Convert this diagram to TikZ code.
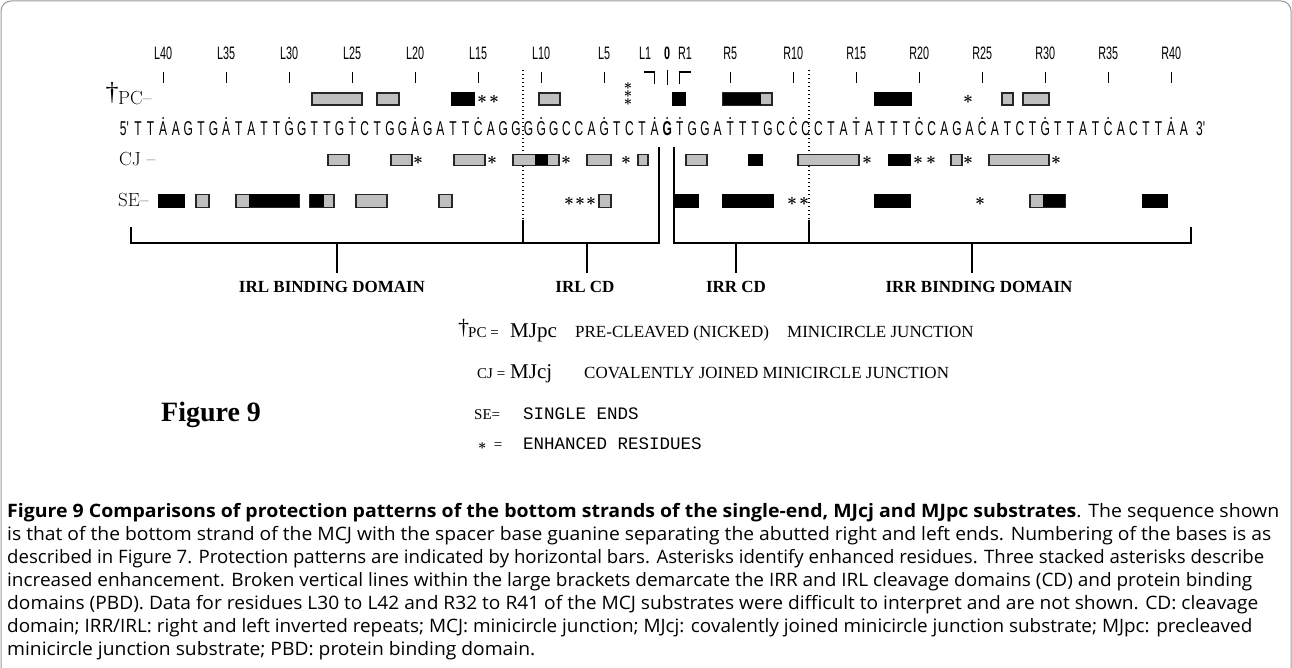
\documentclass[tikz,border=0pt]{standalone}
\usepackage{graphicx}
\usepackage{fontspec}
\newfontfamily\seqf[FakeStretch=0.6]{Liberation Sans}
\newfontfamily\capf{Open Sans}
\newfontfamily\timesf{Liberation Serif}
\newfontfamily\monof{Liberation Mono}
\newcommand\capline[2]{\resizebox{#1pt}{\height}{#2}}
\newcommand\st{{\boldmath$\ast$}}
\begin{document}
\begin{tikzpicture}[x=1pt,y=-1pt,
  seq/.style={font=\seqf\fontsize{20}{24}\selectfont, anchor=base, inner sep=0},
  lab/.style={font=\seqf\fontsize{18}{20}\selectfont, inner sep=0},
  tickln/.style={line width=1.2pt},
  gbar/.style={draw=black!85, fill=black!25, line width=1.4pt},
  bbar/.style={draw=black, fill=black, line width=1.4pt},
  star/.style={inner sep=0, font=\fontsize{17}{17}\selectfont},
  brk/.style={line width=1.6pt},
  dotln/.style={line width=1.4pt, dash pattern=on 1.4pt off 2.6pt},
  dom/.style={font=\timesf\bfseries\fontsize{17}{20}\selectfont, inner sep=0, anchor=base},
  rowlab/.style={font=\fontsize{19}{22}\selectfont, inner sep=0, anchor=base west},
  leg/.style={font=\timesf\fontsize{17}{20}\selectfont, inner sep=0, anchor=base west},
  legbig/.style={font=\timesf\fontsize{21}{24}\selectfont, inner sep=0, anchor=base west},
  legsm/.style={font=\timesf\fontsize{15}{18}\selectfont, inner sep=0, anchor=base west},
  legmono/.style={font=\monof\fontsize{17.5}{20}\selectfont, inner sep=0, anchor=base west},
  captxt/.style={font=\capf\fontsize{18.5}{20}\selectfont, inner sep=0, anchor=base west}
]
\useasboundingbox (0,0) rectangle (1292,668);
% frame
\draw[black!40, line width=1pt, rounded corners=10pt] (1,668) -- (1,1) -- (1291,1) -- (1291,668);

% top tick labels and ticks
\foreach \i/\t in {2/L40,7/L35,12/L30,17/L25,22/L20,27/L15,32/L10,37/L5,47/R5,52/R10,57/R15,62/R20,67/R25,72/R30,77/R35,82/R40} {
  \node[lab] (t\t) at ({138+12.6*\i},53) {\t};
  \draw[tickln] ({138+12.6*\i},72) -- ({138+12.6*\i},83);
}
\node[lab] (tL1) at (645,53) {L1};
\draw[tickln] (643.6,72) -- (654.6,72) -- (654.6,84);
\node[lab, font=\seqf\bfseries\fontsize{18}{20}\selectfont] (t0) at (667.2,53) {0};
\draw[tickln] (667.2,70) -- (667.2,85);
\node[lab] (tR1) at (685,53) {R1};
\draw[tickln] (690.8,72) -- (679.8,72) -- (679.8,84);

% dotted domain separators
\draw[dotln] (523,70) -- (523,220);
\draw[dotln] (809,70) -- (809,220);

% row labels
\node[font=\timesf\fontsize{26}{26}\selectfont, inner sep=0, anchor=base] (dag1) at (112,101) {\textdagger};
\node[rowlab] (pclab) at (118,105) {PC–};
\node[rowlab] (cjlab) at (119,166) {CJ –};
\node[rowlab] (selab) at (118,207) {SE–};

% sequence
\node[seq, anchor=base east] (five) at (129,136) {5'};
\foreach \c [count=\i from 0] in {T,T,A,A,G,T,G,A,T,A,T,T,G,G,T,T,G,T,C,T,G,G,A,G,A,T,T,C,A,G,G,G,G,G,C,C,A,G,T,C,T,A} {
  \node[seq] (sL\i) at ({138+12.6*\i},136) {\c};
}
\node[seq, font=\seqf\bfseries\fontsize{20}{24}\selectfont] (s42) at (667.2,136) {G};
\foreach \c [count=\i from 43] in {T,G,G,A,T,T,T,G,C,C,C,C,T,A,T,A,T,T,T,C,C,A,G,A,C,A,T,C,T,G,T,T,A,T,C,A,C,T,T,A,A} {
  \node[seq] (sR\i) at ({138+12.6*\i},136) {\c};
}
\node[seq, anchor=base west] (three) at (1196,136) {3'};
\foreach \i in {2,7,12,17,22,27,32,37,41,42,43,47,52,57,62,67,72,77,82} {
  \fill ({138+12.6*\i},118) circle (1pt);
}

% PC row
\draw[gbar] (312,93) rectangle (362,105);
\draw[gbar] (377,93) rectangle (399,105);
\draw[bbar] (452,93) rectangle (474,105);
\node[star] (pcs1) at (482,99) {\st};
\node[star] (pcs2) at (494,99) {\st};
\draw[gbar] (539,93) rectangle (560,105);
\node[inner sep=0, font=\fontsize{14}{14}\selectfont] (pcs3) at (628,94) {\shortstack{\st\\[-1.5pt]\st\\[-1.5pt]\st}};
\draw[bbar] (673,93) rectangle (685,105);
\draw[gbar] (723,93) rectangle (772,105);
\fill[black] (723,93) rectangle (761,105);
\draw[bbar] (875,93) rectangle (911,105);
\node[star] (pcs6) at (968,99) {\st};
\draw[gbar] (1002,93) rectangle (1013,105);
\draw[gbar] (1023,93) rectangle (1049,105);

% CJ row
\draw[gbar] (328,154.5) rectangle (349,165.5);
\draw[gbar] (391,154.5) rectangle (412,165.5);
\node[star] (cjs1) at (418,160) {\st};
\draw[gbar] (454,154.5) rectangle (485,165.5);
\node[star] (cjs2) at (492,160) {\st};
\draw[gbar] (513,154.5) rectangle (559,165.5);
\fill[black] (535,154.5) rectangle (548,165.5);
\node[star] (cjs3) at (566,160) {\st};
\draw[gbar] (587,154.5) rectangle (611,165.5);
\node[star] (cjs4) at (626,160) {\st};
\draw[gbar] (638,154.5) rectangle (648,165.5);
\draw[gbar] (686,154.5) rectangle (707,165.5);
\draw[bbar] (749,154.5) rectangle (762,165.5);
\draw[gbar] (798,154.5) rectangle (859,165.5);
\node[star] (cjs5) at (867,160) {\st};
\draw[bbar] (889,154.5) rectangle (910,165.5);
\node[star] (cjs6) at (918,160) {\st};
\node[star] (cjs7) at (931,160) {\st};
\draw[gbar] (951,154.5) rectangle (962,165.5);
\node[star] (cjs8) at (968,160) {\st};
\draw[gbar] (989,154.5) rectangle (1049,165.5);
\node[star] (cjs9) at (1056,160) {\st};

% SE row
\draw[bbar] (159,194.5) rectangle (184,207.5);
\draw[gbar] (196,194.5) rectangle (209,207.5);
\draw[gbar] (236,194.5) rectangle (299,207.5);
\fill[black] (249,194.5) rectangle (299,207.5);
\draw[gbar] (310,194.5) rectangle (334,207.5);
\fill[black] (310,194.5) rectangle (324,207.5);
\draw[gbar] (356,194.5) rectangle (387,207.5);
\draw[gbar] (439,194.5) rectangle (452,207.5);
\node[star] (ses1) at (569,201) {\st};
\node[star] (ses2) at (580,201) {\st};
\node[star] (ses3) at (591,201) {\st};
\draw[gbar] (599,194.5) rectangle (611,207.5);
\draw[bbar] (674,194.5) rectangle (698,207.5);
\draw[bbar] (723,194.5) rectangle (773,207.5);
\node[star] (ses4) at (792,201) {\st};
\node[star] (ses5) at (804,201) {\st};
\draw[bbar] (875,194.5) rectangle (910,207.5);
\node[star] (ses6) at (980,201) {\st};
\draw[gbar] (1030,194.5) rectangle (1065,207.5);
\fill[black] (1043,194.5) rectangle (1065,207.5);
\draw[bbar] (1143,194.5) rectangle (1167,207.5);

% brackets
\draw[brk] (131,227) -- (131,243) -- (659,243) -- (659,147);
\draw[brk] (523,220) -- (523,243);
\draw[brk] (337,243) -- (337,273);
\draw[brk] (587,243) -- (587,273);
\draw[brk] (674,147) -- (674,243) -- (1191,243) -- (1191,227);
\draw[brk] (809,220) -- (809,243);
\draw[brk] (736,243) -- (736,273);
\draw[brk] (972,243) -- (972,273);

% domain labels
\node[dom] (irlbd) at (332,292) {IRL BINDING DOMAIN};
\node[dom] (irlcd) at (585,292) {IRL CD};
\node[dom] (irrcd) at (736,292) {IRR CD};
\node[dom] (irrbd) at (979,292) {IRR BINDING DOMAIN};

% legend
\node[font=\timesf\fontsize{22}{22}\selectfont, inner sep=0, anchor=base west] (dag2) at (458,334) {\textdagger};
\node[legsm] (lg1a) at (468,337) {PC =};
\node[legbig] (lg1b) at (510,337) {MJpc};
\node[leg] (lg1c) at (575,337) {PRE-CLEAVED (NICKED)};
\node[leg] (lg1d) at (787,337) {MINICIRCLE JUNCTION};
\node[legsm] (lg2a) at (477,378) {CJ =};
\node[legbig] (lg2b) at (510,378) {MJcj};
\node[leg] (lg2c) at (584,378) {COVALENTLY JOINED MINICIRCLE JUNCTION};
\node[legsm] (lg3a) at (474,419) {SE=};
\node[legmono] (lg3b) at (523,419) {SINGLE ENDS};
\node[legsm] (lg4a) at (478,449) {\st\ \ =};
\node[legmono] (lg4b) at (523,449) {ENHANCED RESIDUES};
\node[font=\timesf\bfseries\fontsize{28}{30}\selectfont, inner sep=0, anchor=base west] (fig9) at (161,421) {Figure 9};

% caption
\node[captxt] (c1) at (7,517) {\capline{1272}{\textbf{Figure 9 Comparisons of protection patterns of the bottom strands of the single-end, MJcj and MJpc substrates}. The sequence shown}};
\node[captxt] (c2) at (7,540) {\capline{1264}{is that of the bottom strand of the MCJ with the spacer base guanine separating the abutted right and left ends. Numbering of the bases is as}};
\node[captxt] (c3) at (7,563) {\capline{1257}{described in Figure 7. Protection patterns are indicated by horizontal bars. Asterisks identify enhanced residues. Three stacked asterisks describe}};
\node[captxt] (c4) at (7,586) {\capline{1245}{increased enhancement. Broken vertical lines within the large brackets demarcate the IRR and IRL cleavage domains (CD) and protein binding}};
\node[captxt] (c5) at (7,609) {\capline{1251}{domains (PBD). Data for residues L30 to L42 and R32 to R41 of the MCJ substrates were difficult to interpret and are not shown. CD: cleavage}};
\node[captxt] (c6) at (7,632) {\capline{1245}{domain; IRR/IRL: right and left inverted repeats; MCJ: minicircle junction; MJcj: covalently joined minicircle junction substrate; MJpc: precleaved}};
\node[captxt] (c7) at (7,655) {\capline{528}{minicircle junction substrate; PBD: protein binding domain.}};
\end{tikzpicture}
\end{document}
